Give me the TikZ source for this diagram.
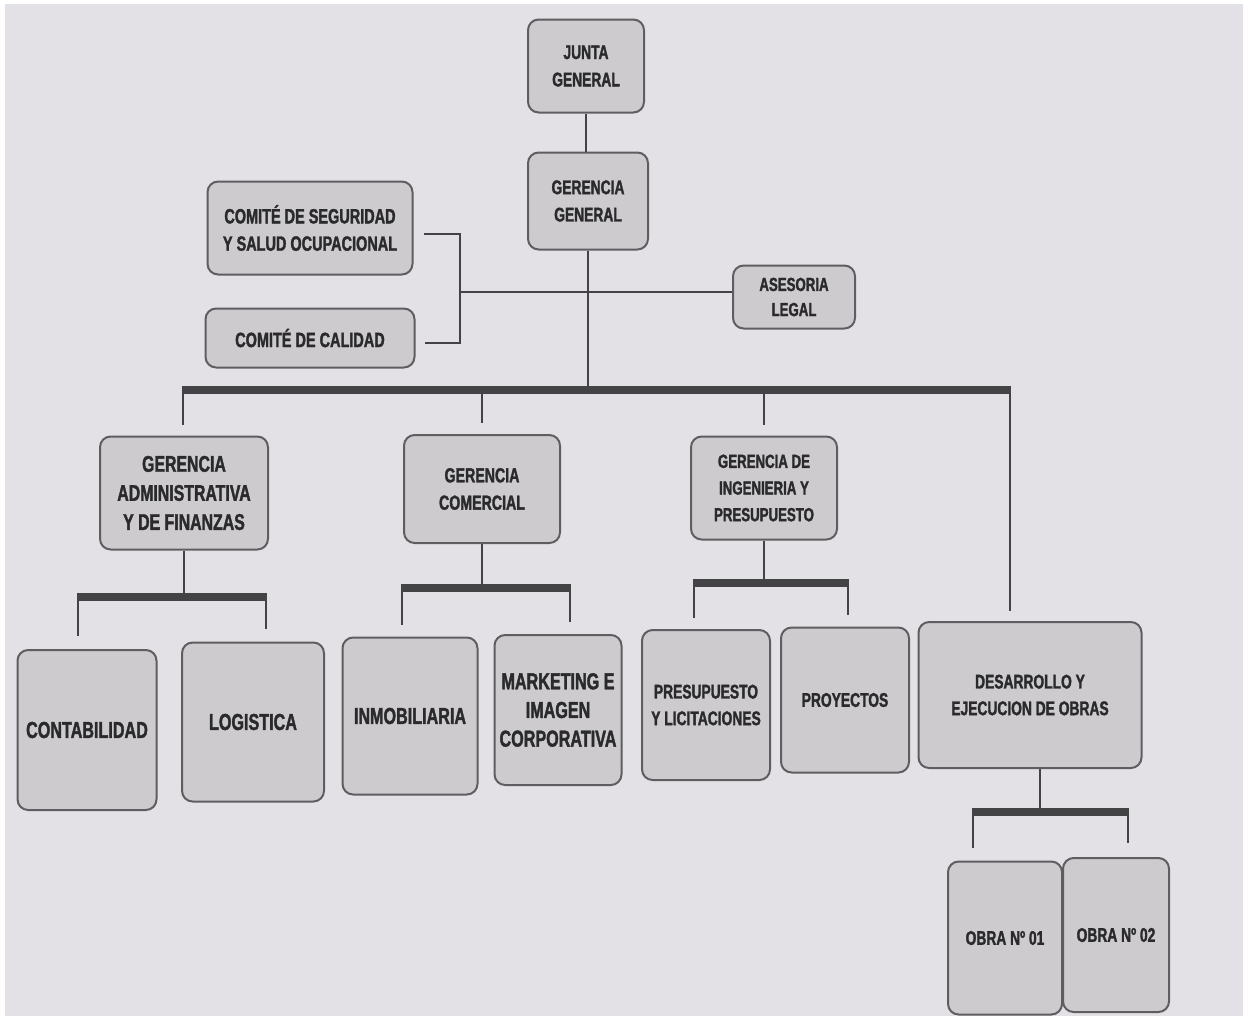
\documentclass[tikz,border=0pt]{standalone}
\usepackage{fontspec}
\setmainfont{Liberation Sans Bold}[FakeStretch=0.70,FakeBold=1.6]
\usetikzlibrary{calc}
\definecolor{paper}{HTML}{E3E1E5}
\definecolor{boxfill}{HTML}{CDCBCE}
\definecolor{boxline}{HTML}{5E5E60}
\definecolor{ink}{HTML}{2A2A2C}
\definecolor{linec}{HTML}{434345}
\begin{document}
\begin{tikzpicture}[x=0.75pt,y=-0.75pt,
  box/.style={draw=boxline, fill=boxfill, rounded corners=8pt, line width=1.5pt, align=center, text=ink, inner sep=0pt},
  wh/.style 2 args={minimum width=#1*0.75pt, minimum height=#2*0.75pt},
  conn/.style={draw=linec, line width=1.9pt},
  bar/.style={draw=linec, line width=6pt},
  fS/.style={font=\fontsize{14.2}{18.8}\selectfont},
  fA/.style={font=\fontsize{14.8}{20.5}\selectfont},
  fK/.style={font=\fontsize{15.5}{20.5}\selectfont},
  fG/.style={font=\fontsize{14.2}{20}\selectfont},
  fB/.style={font=\fontsize{15.2}{20.5}\selectfont},
  fC/.style={font=\fontsize{17}{21.8}\selectfont},
  fD/.style={font=\fontsize{14.8}{20}\selectfont},
  fE/.style={font=\fontsize{17.3}{21.5}\selectfont}]
% page
\fill[white] (0,0) rectangle (1248,1021);
\fill[paper] (5,4) rectangle (1243,1016);
% nodes
\node[box,wh={116}{93},fA] (junta) at (586,66) {JUNTA\\GENERAL};
\node[box,wh={120}{97},fA] (gg) at (588,201) {GERENCIA\\GENERAL};
\node[box,wh={205}{93},fK] (cs) at (310,228) {COMITÉ DE SEGURIDAD\\Y SALUD OCUPACIONAL};
\node[box,wh={209}{59},fK] (cc) at (310,338) {COMITÉ DE CALIDAD};
\node[box,wh={122}{63},fS] (al) at (794,297) {ASESORIA\\LEGAL};
\node[box,wh={168}{113},fC] (gaf) at (184,493) {GERENCIA\\ADMINISTRATIVA\\Y DE FINANZAS};
\node[box,wh={156}{108},fB] (gc) at (482,489) {GERENCIA\\COMERCIAL};
\node[box,wh={146}{103},fG] (gip) at (764,488) {GERENCIA DE\\INGENIERIA Y\\PRESUPUESTO};
\node[box,wh={139}{160},fE] (cont) at (87,730) {CONTABILIDAD};
\node[box,wh={142}{159},fE] (log) at (253,722) {LOGISTICA};
\node[box,wh={135}{157},fE] (inm) at (410,716) {INMOBILIARIA};
\node[box,wh={127}{150},fE] (mkt) at (558,710) {MARKETING E\\IMAGEN\\CORPORATIVA};
\node[box,wh={128}{150},fD] (pyl) at (706,705) {PRESUPUESTO\\Y LICITACIONES};
\node[box,wh={128}{145},fD] (proy) at (845,700) {PROYECTOS};
\node[box,wh={223}{146},fD] (des) at (1030,695) {DESARROLLO Y\\EJECUCION DE OBRAS};
\node[box,wh={114}{153},fD] (o1) at (1005,938) {OBRA Nº 01};
\node[box,wh={106}{154},fD] (o2) at (1116,935) {OBRA Nº 02};
% top connectors
\draw[conn] (junta.south) -- (junta.south |- gg.north);
\coordinate (brk) at (460,292);
\draw[conn] ($(cs.east)+(10,6)$) -| (brk) |- ($(cc.east)+(9,5)$);
\draw[conn] (brk) -- (brk -| al.west);
% main bar
\coordinate (mL) at (183,390);
\coordinate (mR) at (1010,390);
\draw[conn] (gg.south) -- (gg.south |- mL);
\draw[conn] (mL) -- ($(mL |- gaf.north)+(0,-11)$);
\draw[conn] (gc.north |- mL) -- ($(gc.north)+(0,-11)$);
\draw[conn] (gip.north |- mL) -- ($(gip.north)+(0,-11)$);
\draw[conn] (mR) -- ($(mR |- des.north)+(0,-10)$);
\draw[bar] ($(mL)+(-1.3,0)$) -- ($(mR)+(1.3,0)$);
% GAF bar
\coordinate (aL) at (78,597);
\coordinate (aR) at (266,597);
\draw[conn] (gaf.south) -- (gaf.south |- aL);
\draw[conn] (aL) -- ($(aL |- cont.north)+(0,-13)$);
\draw[conn] (aR) -- ($(aR |- log.north)+(0,-13)$);
\draw[bar] ($(aL)+(-1.3,0)$) -- ($(aR)+(1.3,0)$);
% GC bar
\coordinate (cL) at (402,588);
\coordinate (cR) at (570,588);
\draw[conn] (gc.south) -- (gc.south |- cL);
\draw[conn] (cL) -- ($(cL |- inm.north)+(0,-12)$);
\draw[conn] (cR) -- ($(cR |- mkt.north)+(0,-12)$);
\draw[bar] ($(cL)+(-1.3,0)$) -- ($(cR)+(1.3,0)$);
% GIP bar
\coordinate (iL) at (694,583);
\coordinate (iR) at (848,583);
\draw[conn] (gip.south) -- (gip.south |- iL);
\draw[conn] (iL) -- ($(iL |- pyl.north)+(0,-11)$);
\draw[conn] (iR) -- ($(iR |- proy.north)+(0,-12)$);
\draw[bar] ($(iL)+(-1.3,0)$) -- ($(iR)+(1.3,0)$);
% DES bar
\coordinate (dL) at (973,812);
\coordinate (dR) at (1128,812);
\coordinate (dS) at (1040,812);
\draw[conn] (dS |- des.south) -- (dS);
\draw[conn] (dL) -- ($(dL |- o1.north)+(0,-13)$);
\draw[conn] (dR) -- ($(dR |- o2.north)+(0,-14)$);
\draw[bar] ($(dL)+(-1.3,0)$) -- ($(dR)+(1.3,0)$);
\end{tikzpicture}
\end{document}
